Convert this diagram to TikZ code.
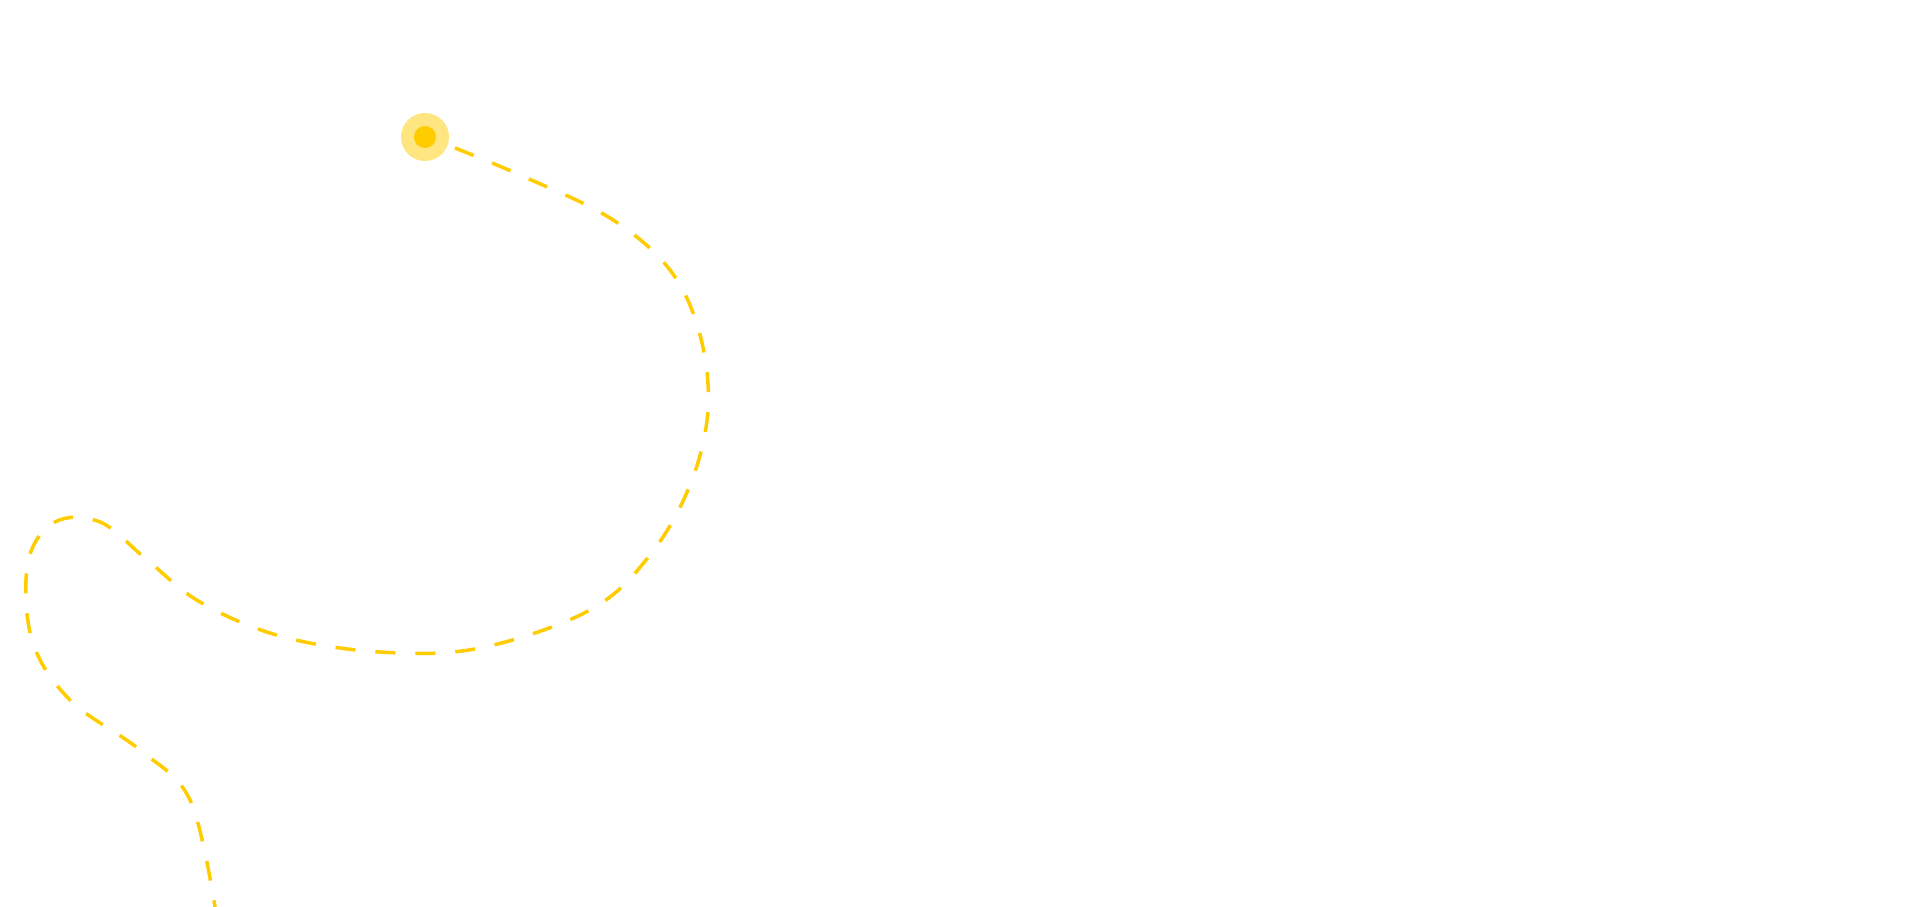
\documentclass[tikz,border=0pt]{standalone}
\begin{document}
\begin{tikzpicture}[x=1pt,y=-1pt]
\definecolor{gold}{HTML}{FFCC00}
\definecolor{paleg}{HTML}{FFE681}
\tikzset{trail/.style={draw=gold,line width=3.5pt,dash pattern=on 20pt off 20pt}}
\useasboundingbox (0,0) rectangle (1917,907);
\fill[white] (0,0) rectangle (1917,907);
\fill[paleg] (425,137) circle (24);
\fill[gold] (425,137) circle (11);
\draw[trail] plot[smooth,tension=0.6] coordinates {(455,148) (520,175) (610,218) (670,270) (700,335) (708,410) (690,485) (650,555) (590,610) (480,648) (380,652) (280,636) (200,602) (145,558) (100,522) (55,522) (28,562) (32,640) (70,700) (140,750) (190,800) (215,907)};
\end{tikzpicture}
\end{document}
